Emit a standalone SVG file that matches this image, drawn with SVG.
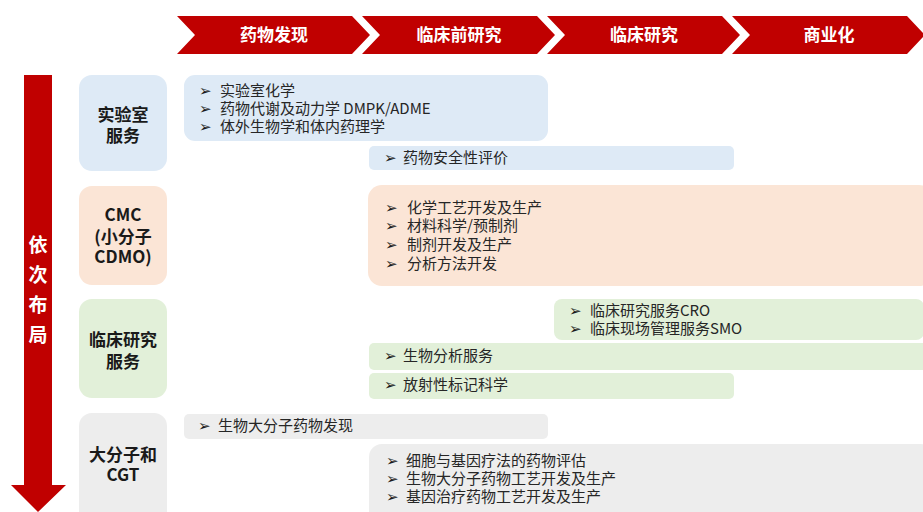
<svg xmlns="http://www.w3.org/2000/svg" width="923" height="512" viewBox="0 0 923 512">
<style>
.chev{fill:#C00000}
.ct{font-family:"Noto Sans CJK SC","Noto Sans",sans-serif;font-size:17px;font-weight:bold;fill:#fff;text-anchor:middle}
.cat{font-family:"Noto Sans CJK SC","Noto Sans",sans-serif;font-size:17px;font-weight:bold;fill:#1a1a1a;text-anchor:middle}
.it{font-family:"Noto Sans CJK SC","Noto Sans",sans-serif;font-size:15px;fill:#262626}
.bu{font-family:"DejaVu Sans",sans-serif;font-size:15px;fill:#1a1a1a}
.blue{fill:#DEEAF6}.peach{fill:#FBE5D6}.green{fill:#E2F0D9}.gray{fill:#EDEDED}
.vt{font-family:"Noto Sans CJK SC",sans-serif;font-size:19px;font-weight:bold;fill:#fff;text-anchor:middle}
</style>
<rect width="923" height="512" fill="#fff"/>
<g id="phases">
<polygon class="chev" points="177,16 352,16 370,35 352,54 177,54 195,35"/>
<polygon class="chev" points="362,16 537,16 555,35 537,54 362,54 380,35"/>
<polygon class="chev" points="547,16 722,16 740,35 722,54 547,54 565,35"/>
<polygon class="chev" points="732,16 907,16 925,35 907,54 732,54 750,35"/>
<text class="ct" x="274" y="41">药物发现</text>
<text class="ct" x="459" y="41">临床前研究</text>
<text class="ct" x="644" y="41">临床研究</text>
<text class="ct" x="829" y="41">商业化</text>
</g>
<g id="layout-arrow">
<polygon class="chev" points="24,75 52,75 52,485 66,485 38,512 11,485 24,485"/>
<text class="vt" x="38" y="252">依<tspan x="38" dy="30">次</tspan><tspan x="38" dy="30">布</tspan><tspan x="38" dy="30">局</tspan></text>
</g>
<g id="cat-lab">
<rect class="blue" x="79" y="75" width="88" height="96" rx="13"/>
<text class="cat" x="123" y="121">实验室<tspan x="123" dy="21">服务</tspan></text>
</g>
<g id="cat-cmc">
<rect class="peach" x="79" y="186" width="88" height="99" rx="13"/>
<text class="cat" x="123" y="221">CMC<tspan x="123" dy="22">(小分子</tspan><tspan x="123" dy="20">CDMO)</tspan></text>
</g>
<g id="cat-clin">
<rect class="green" x="79" y="299" width="88" height="99" rx="13"/>
<text class="cat" x="123" y="346">临床研究<tspan x="123" dy="22">服务</tspan></text>
</g>
<g id="cat-bio">
<rect class="gray" x="79" y="413" width="88" height="112" rx="13"/>
<text class="cat" x="123" y="461">大分子和<tspan x="123" dy="20">CGT</tspan></text>
</g>
<g id="lab-discovery">
<rect class="blue" x="184" y="75" width="364" height="66" rx="11"/>
<text class="bu" x="199" y="96">➢<tspan x="199" dy="18">➢</tspan><tspan x="199" dy="18">➢</tspan></text>
<text class="it" x="220" y="96">实验室化学<tspan x="220" dy="18">药物代谢及动力学 DMPK/ADME</tspan><tspan x="220" dy="18">体外生物学和体内药理学</tspan></text>
</g>
<g id="lab-safety">
<rect class="blue" x="369" y="146" width="365" height="24" rx="5"/>
<text class="bu" x="384" y="163">➢</text><text class="it" x="403" y="163">药物安全性评价</text>
</g>
<g id="cmc-items">
<rect class="peach" x="368" y="185" width="565" height="101" rx="14"/>
<text class="bu" x="385" y="213">➢<tspan x="385" dy="18">➢</tspan><tspan x="385" dy="19">➢</tspan><tspan x="385" dy="19">➢</tspan></text>
<text class="it" x="407" y="213">化学工艺开发及生产<tspan x="407" dy="18">材料科学/预制剂</tspan><tspan x="407" dy="19">制剂开发及生产</tspan><tspan x="407" dy="19">分析方法开发</tspan></text>
</g>
<g id="clin-cro">
<rect class="green" x="554" y="299" width="370" height="41" rx="8"/>
<text class="bu" x="569" y="316">➢<tspan x="569" dy="18">➢</tspan></text>
<text class="it" x="590" y="316">临床研究服务CRO<tspan x="590" dy="18">临床现场管理服务SMO</tspan></text>
</g>
<g id="clin-bioanalysis">
<rect class="green" x="369" y="343" width="560" height="27" rx="5"/>
<text class="bu" x="384" y="361">➢</text><text class="it" x="403" y="361">生物分析服务</text>
</g>
<g id="clin-radio">
<rect class="green" x="369" y="373" width="365" height="26" rx="5"/>
<text class="bu" x="384" y="390">➢</text><text class="it" x="403" y="390">放射性标记科学</text>
</g>
<g id="bio-discovery">
<rect class="gray" x="184" y="414" width="364" height="25" rx="5"/>
<text class="bu" x="198" y="431">➢</text><text class="it" x="218" y="431">生物大分子药物发现</text>
</g>
<g id="bio-cgt">
<rect class="gray" x="369" y="444" width="565" height="80" rx="13"/>
<text class="bu" x="386" y="466">➢<tspan x="386" dy="18">➢</tspan><tspan x="386" dy="18">➢</tspan></text>
<text class="it" x="406" y="466">细胞与基因疗法的药物评估<tspan x="406" dy="18">生物大分子药物工艺开发及生产</tspan><tspan x="406" dy="18">基因治疗药物工艺开发及生产</tspan></text>
</g>
<g id="connectors"></g>
</svg>
